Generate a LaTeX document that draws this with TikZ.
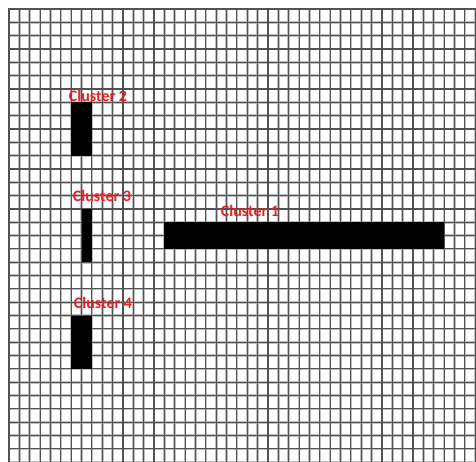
\documentclass[tikz,border=0pt]{standalone}
\usepackage{fontspec}
\setmainfont{Carlito}
\definecolor{clred}{RGB}{235,32,38}
\begin{document}
\begin{tikzpicture}[x=1pt,y=-1pt,
  gridhalo/.style={draw=black!25,line width=2.6pt},
  gridcore/.style={draw=black!68,line width=1.1pt},
  bar/.style={fill=black},
  lbl/.style={text=clred,font=\bfseries\fontsize{16}{18}\selectfont,inner sep=0pt}]
\useasboundingbox (0,0) rectangle (476,461);
\fill[white] (0,0) rectangle (476,461);
\def\cw{10.36}\def\ch{13.33}\def\ox{9}\def\oy{9}
\begin{scope}
\clip (0,0) rectangle (476,461);
\foreach \k in {0,...,45} {
  \draw[gridhalo] ({\ox+\k*\cw},8.3) -- ({\ox+\k*\cw},462);
}
\foreach \k in {0,...,34} {
  \draw[gridhalo] (8.3,{\oy+\k*\ch}) -- (477,{\oy+\k*\ch});
}
\foreach \k in {0,...,45} {
  \draw[gridcore] ({\ox+\k*\cw},8.3) -- ({\ox+\k*\cw},462);
}
\foreach \k in {0,...,34} {
  \draw[gridcore] (8.3,{\oy+\k*\ch}) -- (477,{\oy+\k*\ch});
}
\end{scope}
% bars
\fill[bar] ({\ox+6*\cw},{\oy+7*\ch}) rectangle ({\ox+8*\cw},{\oy+11*\ch});
\fill[bar] ({\ox+7*\cw},{\oy+15*\ch}) rectangle ({\ox+8*\cw},{\oy+19*\ch});
\fill[bar] ({\ox+15*\cw},{\oy+16*\ch}) rectangle ({\ox+42*\cw},{\oy+18*\ch});
\fill[bar] ({\ox+6*\cw},{\oy+23*\ch}) rectangle ({\ox+8*\cw},{\oy+27*\ch});
% labels
\node[lbl] (c2) at (98,96) {Cluster 2};
\node[lbl] (c3) at (102,196) {Cluster 3};
\node[lbl] (c1) at (250,211) {Cluster 1};
\node[lbl] (c4) at (103,303) {Cluster 4};
\end{tikzpicture}
\end{document}
